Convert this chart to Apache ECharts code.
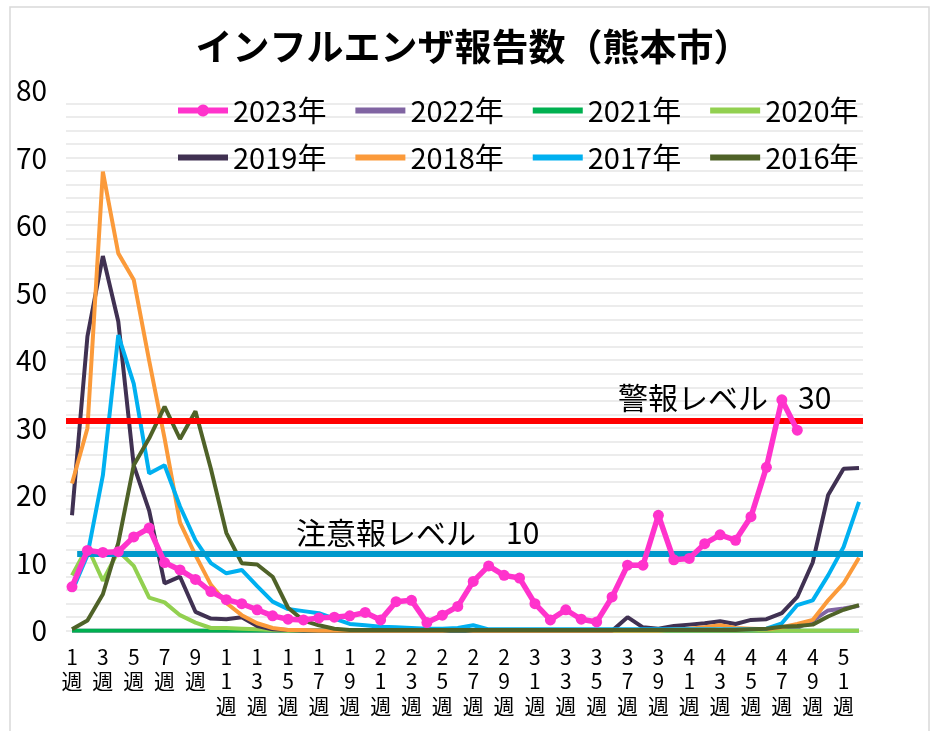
<!DOCTYPE html>
<html lang="ja">
<head>
<meta charset="UTF-8">
<title>インフルエンザ報告数（熊本市）</title>
<script src="https://cdn.jsdelivr.net/npm/echarts@6/dist/echarts.min.js"></script>
<style>
html, body { margin: 0; padding: 0; background: #fff; }
#chart { width: 946px; height: 731px; }
</style>
</head>
<body>
<div id="chart"></div>
<script>
// 週ラベル
var weeks = ['1週','2週','3週','4週','5週','6週','7週','8週','9週','10週',
	'11週','12週','13週','14週','15週','16週','17週','18週','19週','20週',
	'21週','22週','23週','24週','25週','26週','27週','28週','29週','30週',
	'31週','32週','33週','34週','35週','36週','37週','38週','39週','40週',
	'41週','42週','43週','44週','45週','46週','47週','48週','49週','50週',
	'51週','52週'];

// 各年の定点当たり報告数
var y2023 = [6.5, 11.9, 11.6, 11.7, 13.9, 15.2, 10.1, 9.0, 7.6, 5.8,
	4.6, 4.0, 3.1, 2.2, 1.7, 1.6, 1.9, 2.0, 2.2, 2.7,
	1.6, 4.3, 4.5, 1.2, 2.3, 3.6, 7.3, 9.6, 8.2, 7.8,
	4.0, 1.6, 3.1, 1.7, 1.3, 5.0, 9.7, 9.7, 17.1, 10.5,
	10.7, 12.9, 14.2, 13.4, 16.9, 24.2, 34.2, 29.7, null, null,
	null, null];
var y2022 = [0, 0, 0, 0, 0, 0, 0, 0, 0, 0,
	0, 0, 0, 0, 0, 0, 0, 0, 0, 0,
	0, 0, 0, 0, 0, 0, 0, 0, 0, 0,
	0, 0, 0, 0, 0, 0, 0, 0, 0, 0,
	0, 0, 0, 0, 0, 0, 0.1, 0.4, 1.5, 3.0,
	3.3, 3.7];
var y2021 = [0, 0, 0, 0, 0, 0, 0, 0, 0, 0,
	0, 0, 0, 0, 0, 0, 0, 0, 0, 0,
	0, 0, 0, 0, 0, 0, 0, 0, 0, 0,
	0, 0, 0, 0, 0, 0, 0, 0, 0, 0,
	0, 0, 0, 0, 0, 0, 0, 0, 0, 0,
	0, 0];
var y2020 = [8.2, 12.4, 7.4, 11.8, 9.6, 4.9, 4.2, 2.3, 1.2, 0.4,
	0.4, 0.3, 0.2, 0.1, 0, 0, 0, 0, 0, 0,
	0, 0, 0, 0, 0, 0, 0, 0, 0, 0,
	0, 0, 0, 0, 0, 0, 0, 0, 0, 0,
	0, 0, 0, 0, 0, 0, 0, 0, 0, 0,
	0, 0];
var y2019 = [17.1, 43.6, 55.5, 45.8, 24.5, 17.8, 7.0, 8.0, 2.8, 1.8,
	1.7, 2.0, 0.7, 0.2, 0.1, 0, 0, 0, 0, 0,
	0, 0, 0, 0, 0, 0, 0, 0, 0, 0,
	0, 0, 0, 0, 0, 0, 2.0, 0.5, 0.3, 0.7,
	0.9, 1.1, 1.4, 1.0, 1.6, 1.7, 2.6, 5.0, 10.1, 20.1,
	24.0, 24.1];
var y2018 = [21.8, 30.0, 68.0, 55.9, 52.0, 40.0, 28.5, 16.0, 11.2, 6.8,
	4.1, 2.3, 1.1, 0.4, 0.1, 0.1, 0, 0, 0, 0,
	0, 0, 0, 0, 0, 0.2, 0, 0, 0, 0,
	0, 0, 0, 0, 0, 0, 0, 0, 0, 0.2,
	0.3, 0.5, 0.8, 0.4, 0.3, 0.2, 0.5, 1.0, 1.6, 4.5,
	7.0, 10.8];
var y2017 = [5.8, 11.2, 23.0, 43.8, 36.6, 23.3, 24.5, 18.4, 13.4, 10.0,
	8.5, 9.0, 6.6, 4.3, 3.2, 2.9, 2.6, 1.8, 1.0, 0.8,
	0.6, 0.5, 0.4, 0.3, 0.3, 0.4, 0.8, 0.2, 0.2, 0.2,
	0.2, 0.2, 0.2, 0.2, 0.2, 0.2, 0.2, 0.2, 0.2, 0.2,
	0.2, 0.2, 0.2, 0.2, 0.2, 0.3, 1.1, 3.8, 4.5, 8.2,
	12.4, 19.1];
var y2016 = [0.2, 1.5, 5.4, 13.0, 24.5, 28.5, 33.2, 28.4, 32.5, 24.0,
	14.5, 10.0, 9.8, 8.0, 3.4, 1.5, 0.8, 0.3, 0.1, 0.1,
	0.1, 0.1, 0.1, 0.1, 0.1, 0.1, 0.1, 0.1, 0.1, 0.1,
	0.1, 0.1, 0.1, 0.1, 0.1, 0.1, 0.1, 0.1, 0.1, 0.1,
	0.1, 0.1, 0.1, 0.1, 0.2, 0.3, 0.6, 0.7, 0.9, 2.1,
	3.1, 3.8];

// 警報・注意報ライン（図中の描画位置）
var alarmLine = 31;
var cautionLine = 11.4;

var font = '"Noto Sans CJK JP", "Noto Sans", sans-serif';
// 凡例アイコン（太線、2023年は丸付き）
var barIcon = 'path://M0,3 L50,3 L50,9 L0,9 Z';
var dotIcon = 'path://M0,3 L19.8,3 A6,6 0 0 1 30.2,3 L50,3 L50,9 L30.2,9 A6,6 0 0 1 19.8,9 L0,9 Z';

var mychart = echarts.init(document.getElementById('chart'));

function yearSeries(name, data, color, width, z) {
	return {
		name: name,
		type: 'line',
		xAxisIndex: 1,
		yAxisIndex: 1,
		data: data,
		symbol: 'none',
		z: z,
		lineStyle: { color: color, width: width },
		itemStyle: { color: color },
		animation: false
	};
}

function legendRow(names, top) {
	return {
		data: names.map(function (n) {
			return { name: n, icon: n == '2023年' ? dotIcon : barIcon };
		}),
		left: 173, top: top,
		itemWidth: 50, itemHeight: 14, itemGap: 29,
		textStyle: { fontFamily: font, fontSize: 29, color: '#000' }
	};
}

var s2023 = yearSeries('2023年', y2023, '#ff33cc', 5.5, 6);
s2023.symbol = 'circle';
s2023.symbolSize = 11;
s2023.showAllSymbol = true;

var option = {
	backgroundColor: '#fff',
	animation: false,
	textStyle: { fontFamily: font },
	title: {
		text: 'インフルエンザ報告数（熊本市）',
		left: 'center',
		top: 23,
		textStyle: { fontFamily: font, fontSize: 37, fontWeight: 'bold', color: '#000' }
	},
	legend: [
		legendRow(['2023年', '2022年', '2021年', '2020年'], 91),
		legendRow(['2019年', '2018年', '2017年', '2016年'], 138)
	],
	grid: [
		// 目盛線用
		{ left: 66, right: 83, top: 103.3, bottom: 100.3 },
		// データ用
		{ left: 72, right: 87, top: 90.7, bottom: 100.3 }
	],
	xAxis: [{
		gridIndex: 0, type: 'value', min: 0, max: 100, show: false
	}, {
		gridIndex: 1,
		type: 'category',
		data: weeks,
		boundaryGap: false,
		axisLine: { show: false },
		axisTick: { show: false },
		axisLabel: {
			interval: 1,
			margin: 14,
			fontFamily: font,
			fontSize: 21,
			lineHeight: 24.5,
			color: '#000',
			formatter: function (v) {
				return v.replace('週', '').split('').join('\n') + '\n週';
			}
		}
	}],
	yAxis: [{
		gridIndex: 0, type: 'value', min: 0, max: 78, interval: 2,
		axisLabel: { show: false },
		axisLine: { show: false },
		axisTick: { show: false },
		splitLine: { lineStyle: { color: '#ececec', width: 2 } }
	}, {
		gridIndex: 1, type: 'value', min: 0, max: 80, interval: 10,
		axisLine: { show: false },
		axisTick: { show: false },
		splitLine: { show: false },
		axisLabel: { margin: 25, fontFamily: font, fontSize: 28, color: '#000' }
	}],
	series: [
		s2023,
		yearSeries('2022年', y2022, '#8064a2', 4, 2),
		yearSeries('2021年', y2021, '#00b050', 4, 2),
		yearSeries('2020年', y2020, '#92d050', 4, 2),
		yearSeries('2019年', y2019, '#403152', 4, 2),
		yearSeries('2018年', y2018, '#fb9a3a', 4, 2),
		yearSeries('2017年', y2017, '#00b0f0', 4, 2),
		yearSeries('2016年', y2016, '#4f6228', 4, 2),
		{
			name: 'level',
			type: 'line',
			xAxisIndex: 0,
			yAxisIndex: 0,
			data: [[0, 0]],
			symbol: 'none',
			lineStyle: { opacity: 0 },
			z: 10,
			silent: true,
			markLine: {
				silent: true,
				symbol: 'none',
				animation: false,
				label: { show: false },
				data: [
					[{ xAxis: 0, yAxis: alarmLine, lineStyle: { color: '#ff0000', width: 6, type: 'solid' } },
					 { xAxis: 100, yAxis: alarmLine }],
					[{ xAxis: 1.4, yAxis: cautionLine, lineStyle: { color: '#0099cc', width: 6, type: 'solid' } },
					 { xAxis: 100, yAxis: cautionLine }]
				]
			}
		}
	],
	graphic: [{
		type: 'rect',
		shape: { x: 10, y: 7, width: 919, height: 740 },
		style: { fill: 'none', stroke: '#d9d9d9', lineWidth: 1.5 },
		silent: true
	}, {
		type: 'text',
		left: 618, top: 383,
		style: { text: '警報レベル　30', fontFamily: font, fontSize: 30, fill: '#000' },
		z: 20
	}, {
		type: 'text',
		left: 296, top: 518,
		style: { text: '注意報レベル　10', fontFamily: font, fontSize: 30, fill: '#000' },
		z: 20
	}]
};

mychart.setOption(option);
</script>
</body>
</html>
